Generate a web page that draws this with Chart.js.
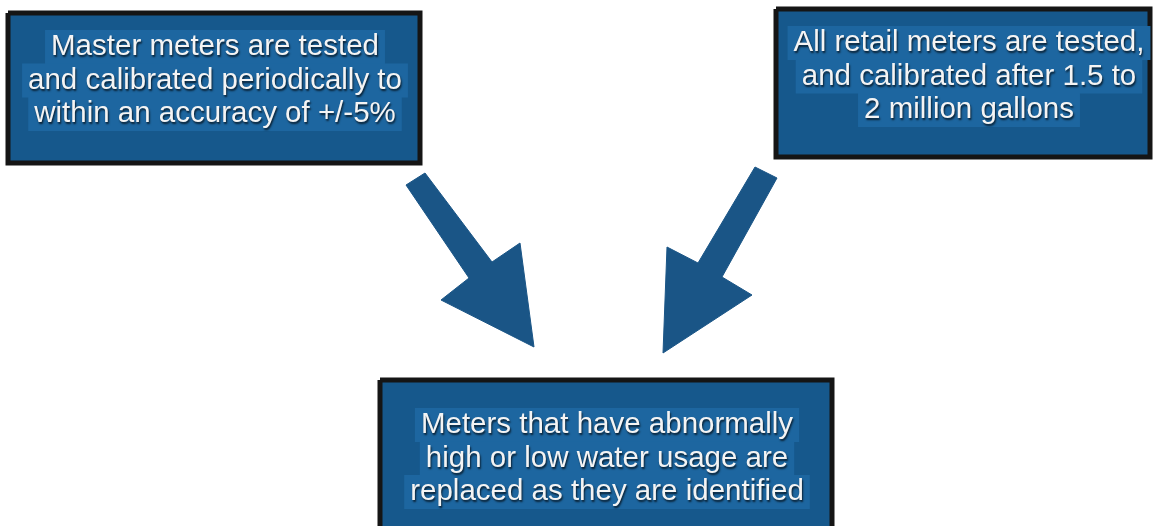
<!DOCTYPE html>
<html>
<head>
<meta charset="utf-8">
<script src="https://cdn.jsdelivr.net/npm/chart.js@4/dist/chart.umd.min.js"></script>
<style>
  html, body { margin: 0; padding: 0; background: #fff; }
  #wrap { width: 1157px; height: 526px; }
</style>
</head>
<body>
<div id="wrap"><canvas id="flowChart"></canvas></div>
<script>
// box corners in diagram units (x left/right, y top/bottom)
const boxX = [[8, 420], [776, 1150], [380, 832]];
const boxY = [[13, 163], [9, 157], [380, 545]];
const boxText = [
  ['Master meters are tested', 'and calibrated periodically to', 'within an accuracy of +/-5%'],
  ['All retail meters are tested,', 'and calibrated after 1.5 to', '2 million gallons'],
  ['Meters that have abnormally', 'high or low water usage are', 'replaced as they are identified']
];
const labelX = [215, 969, 607];
const labelY = [55, 51, 433];

// arrow outlines
const leftArrowX = [425, 406, 469, 441, 534, 520, 492, 425];
const leftArrowY = [173, 185, 278, 300, 347, 243, 262, 173];
const rightArrowX = [755, 777, 722, 752, 663, 667, 698, 755];
const rightArrowY = [167, 178, 277, 295, 353, 247, 263, 167];

const boxFill = '#16588c';
const bandFill = '#1d66a0';
const arrowFill = '#1a5586';

function toPoints(xs, ys) {
  return xs.map((x, i) => ({ x: x, y: ys[i] }));
}

function boxPoints(i) {
  const [l, r] = boxX[i];
  const [t, b] = boxY[i];
  return toPoints([l, r, r, l, l], [t, t, b, b, t]);
}

const datasets = [];
boxX.forEach((_, i) => {
  datasets.push({
    data: boxPoints(i),
    showLine: true,
    fill: 'shape',
    backgroundColor: boxFill,
    borderColor: '#151515',
    borderWidth: 5,
    borderJoinStyle: 'miter',
    pointRadius: 0,
    tension: 0,
    order: 2
  });
});
[[leftArrowX, leftArrowY], [rightArrowX, rightArrowY]].forEach(a => {
  datasets.push({
    data: toPoints(a[0], a[1]),
    showLine: true,
    fill: 'shape',
    backgroundColor: arrowFill,
    borderColor: arrowFill,
    borderWidth: 1,
    pointRadius: 0,
    tension: 0,
    order: 1
  });
});

const boxLabels = {
  id: 'boxLabels',
  afterDatasetsDraw(chart) {
    const c = chart.ctx;
    const sx = chart.scales.x, sy = chart.scales.y;
    c.save();
    c.font = '29.5px "Liberation Sans", Arial, sans-serif';
    c.textAlign = 'center';
    c.textBaseline = 'alphabetic';
    boxText.forEach((lines, i) => {
      const cx = sx.getPixelForValue(labelX[i]);
      lines.forEach((t, k) => {
        const by = sy.getPixelForValue(labelY[i] + k * 33.5);
        const w = c.measureText(t).width;
        c.fillStyle = bandFill;
        c.fillRect(cx - w / 2 - 6, by - 25, w + 12, 34);
      });
      lines.forEach((t, k) => {
        const by = sy.getPixelForValue(labelY[i] + k * 33.5);
        c.shadowColor = 'rgba(0,0,0,0.7)';
        c.shadowOffsetX = 1;
        c.shadowOffsetY = 2;
        c.shadowBlur = 2;
        c.fillStyle = '#f4f4f4';
        c.fillText(t, cx, by);
        c.shadowColor = 'transparent';
      });
    });
    c.restore();
  }
};

new Chart(document.getElementById('flowChart').getContext('2d'), {
  type: 'scatter',
  data: { datasets: datasets },
  options: {
    responsive: true,
    maintainAspectRatio: false,
    animation: false,
    layout: { padding: 0 },
    plugins: {
      legend: { display: false },
      tooltip: { enabled: false }
    },
    scales: {
      x: { type: 'linear', min: 0, max: 1157, display: false },
      y: { type: 'linear', min: 0, max: 526, reverse: true, display: false }
    }
  },
  plugins: [boxLabels]
});
</script>
</body>
</html>
